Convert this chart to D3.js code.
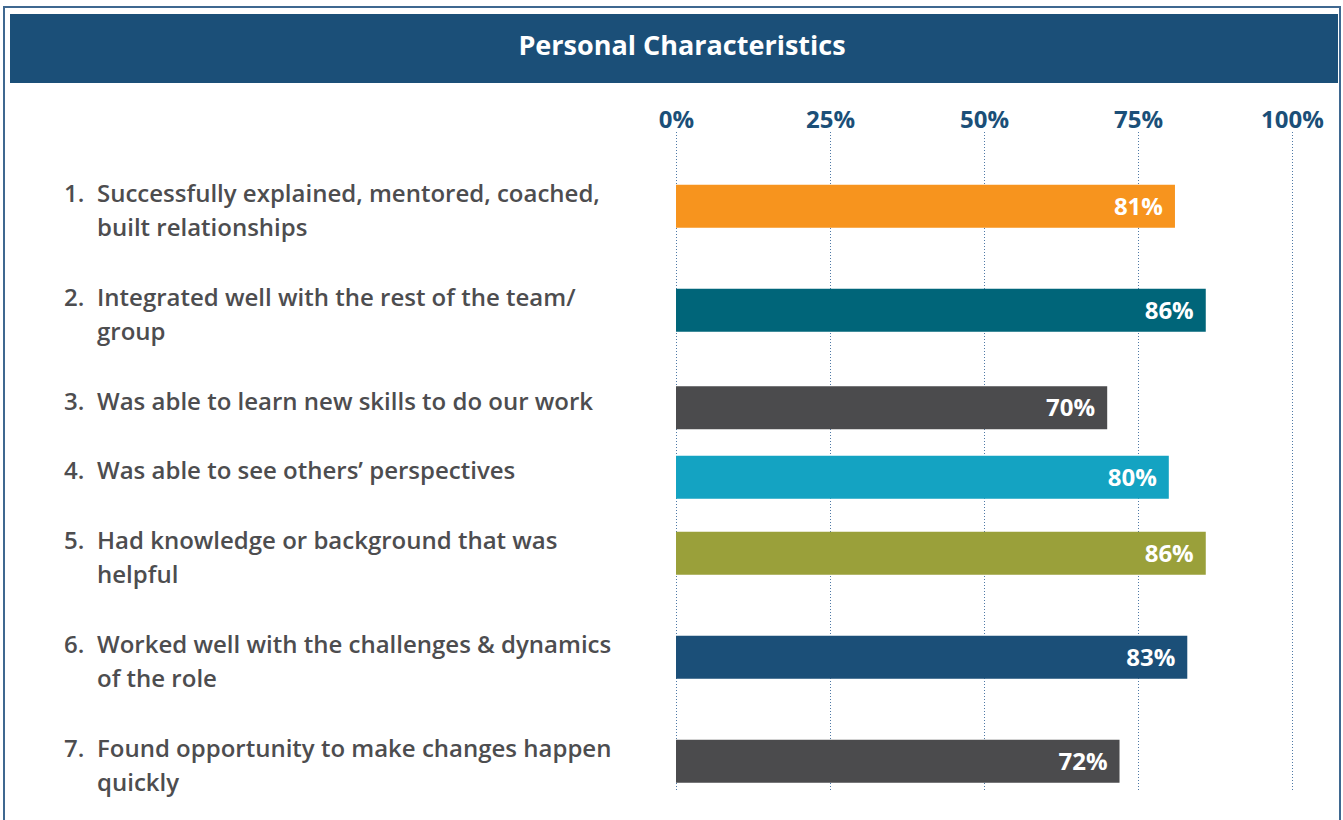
<!DOCTYPE html>
<html>
<head>
<meta charset="utf-8">
<script src="https://cdn.jsdelivr.net/npm/d3@7"></script>
<style>
  body { margin: 0; background: #fff; }
  text { font-family: "Open Sans", sans-serif; }
</style>
</head>
<body>
<div id="chart"></div>
<script>
// chart data
var title = "Personal Characteristics";
var itemNumbers = ["1.", "2.", "3.", "4.", "5.", "6.", "7."];
var itemLabels = [
    ["Successfully explained, mentored, coached,", "built relationships"],
    ["Integrated well with the rest of the team/", "group"],
    ["Was able to learn new skills to do our work"],
    ["Was able to see others\u2019 perspectives"],
    ["Had knowledge or background that was", "helpful"],
    ["Worked well with the challenges & dynamics", "of the role"],
    ["Found opportunity to make changes happen", "quickly"]
];
var itemValues = [81, 86, 70, 80, 86, 83, 72];
var barColors = ["#f7941e", "#006579", "#4b4b4d", "#14a3c2", "#9aa03a", "#1b4f78", "#4b4b4d"];
var tickValues = [0, 25, 50, 75, 100];

var width = 1343, height = 820;
var navy = "#1b4f78";

var svg = d3.select("#chart")
    .append("svg")
    .attr("width", width)
    .attr("height", height);

// outer frame + header band
svg.append("rect")
    .attr("x", 4).attr("y", 7)
    .attr("width", width - 7).attr("height", height)
    .attr("fill", "none")
    .attr("stroke", "#3f6890")
    .attr("stroke-width", 2);

svg.append("rect")
    .attr("x", 10).attr("y", 14)
    .attr("width", 1328).attr("height", 69)
    .attr("fill", navy);

svg.append("text")
    .attr("x", 682).attr("y", 55)
    .attr("text-anchor", "middle")
    .attr("fill", "#fff")
    .attr("font-size", "27px")
    .attr("font-weight", 700)
    .text(title);

// x scale
var x = d3.scaleLinear()
    .domain([0, 100])
    .range([676, 1292]);

// row layout driven by number of label lines
var lineH = 34.5, gap = 35, top0 = 176;
var rows = [];
var acc = top0;
itemLabels.forEach(function (lines, i) {
    rows.push({ i: i, start: acc, lines: lines, value: itemValues[i] });
    acc += lines.length * lineH + gap;
});

// dotted gridlines
var grid = svg.append("g");
grid.selectAll("line")
    .data(tickValues)
    .enter().append("line")
    .attr("x1", function (d) { return x(d) + 0.5; })
    .attr("x2", function (d) { return x(d) + 0.5; })
    .attr("y1", 132)
    .attr("y2", 791)
    .attr("stroke", "#4f79a6")
    .attr("stroke-width", 1)
    .attr("stroke-dasharray", "1,2");

// top axis labels
var xAxis = d3.axisTop(x)
    .tickValues(tickValues)
    .tickFormat(function (d) { return d + "%"; })
    .tickSize(0)
    .tickPadding(0);

var ax = svg.append("g")
    .attr("transform", "translate(0,128)")
    .call(xAxis);
ax.select(".domain").remove();
ax.selectAll("text")
    .attr("fill", navy)
    .attr("font-size", "24px")
    .attr("font-weight", 700)
    .attr("font-family", "'Open Sans', sans-serif")
    .attr("dy", 0);

// labels
var barH = 43;
var row = svg.append("g").selectAll("g")
    .data(rows)
    .enter().append("g");

function firstLine(d) { return d.start + lineH / 2; }

row.append("text")
    .attr("x", 64)
    .attr("y", function (d) { return firstLine(d) + 8.5; })
    .attr("fill", "#4d4d4f")
    .attr("font-size", "24px")
    .attr("font-weight", 600)
    .text(function (d) { return itemNumbers[d.i]; });

row.each(function (d) {
    var t = d3.select(this).append("text")
        .attr("fill", "#4d4d4f")
        .attr("font-size", "24px")
        .attr("font-weight", 600);
    d.lines.forEach(function (ln, k) {
        t.append("tspan")
            .attr("x", 97)
            .attr("y", firstLine(d) + 8.5 + k * lineH)
            .text(ln);
    });
});

// bars
function barCenter(d) { return firstLine(d) + 6.5 * d.lines.length; }

row.append("rect")
    .attr("x", x(0))
    .attr("y", function (d) { return barCenter(d) - barH / 2; })
    .attr("width", function (d) { return x(d.value) - x(0); })
    .attr("height", barH)
    .attr("fill", function (d) { return barColors[d.i]; });

row.append("text")
    .attr("x", function (d) { return x(d.value) - 12; })
    .attr("y", function (d) { return barCenter(d) + 8.5; })
    .attr("text-anchor", "end")
    .attr("fill", "#fff")
    .attr("font-size", "24px")
    .attr("font-weight", 700)
    .text(function (d) { return d.value + "%"; });
</script>
</body>
</html>
